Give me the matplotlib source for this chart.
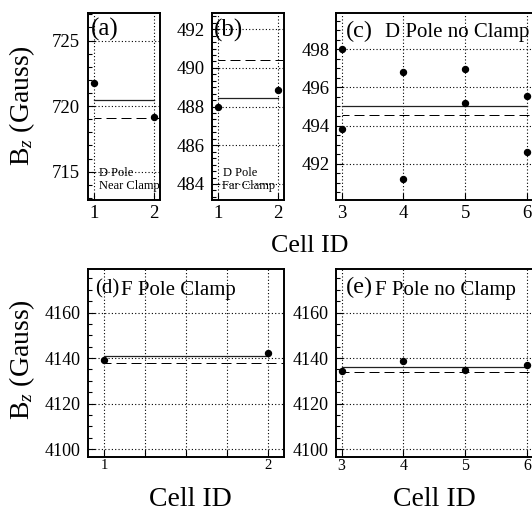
import numpy as np
import matplotlib
matplotlib.use("Agg")
import matplotlib.pyplot as plt
from matplotlib.ticker import AutoMinorLocator, FixedLocator, MultipleLocator

plt.rcParams['font.family'] = ['Liberation Serif', 'DejaVu Serif']
plt.rcParams['mathtext.fontset'] = 'custom'
plt.rcParams['mathtext.rm'] = 'Liberation Serif'
plt.rcParams['mathtext.it'] = 'Liberation Serif:italic'

# ---------------- data ----------------
a_cells = [1, 2]
a_bz = [721.8, 719.15]
a_ref = 719.13

b_cells = [1, 2]
b_bz = [488.0, 488.88]
b_ref = 490.41

c_cells = [3, 3, 4, 4, 5, 5, 6, 6]
c_bz = [498.0, 493.82, 496.8, 491.22, 496.98, 495.2, 495.53, 492.63]
c_ref = 494.56

d_cells = [1, 2]
d_bz = [4139.3, 4142.2]
d_ref = 4137.7

e_cells = [3, 4, 5, 6]
e_bz = [4134.2, 4138.8, 4134.8, 4137.1]
e_ref = 4133.7

a_ticks = [1, 2]
c_ticks = [3, 4, 5, 6]
d_ticks = [1, 1.25, 1.5, 1.75, 2]
d_ticklabels = ['1', '', '', '', '2']

# ---------------- figure ----------------
W, H = 532, 511
fig = plt.figure(figsize=(W / 100, H / 100), dpi=100)


def rect(l, r, t, b):
    return [l / W, 1 - b / H, (r - l) / W, (b - t) / H]


def style(ax, xlim, ylim, xticks, ymajor, nminor, xlab_size, ylab_size, ypad, xpad, xticklabels=None):
    ax.set_xlim(*xlim)
    ax.set_ylim(*ylim)
    ax.xaxis.set_major_locator(FixedLocator(xticks))
    if xticklabels is not None:
        ax.set_xticklabels(xticklabels)
    else:
        ax.set_xticklabels([str(t) for t in xticks])
    ax.yaxis.set_major_locator(MultipleLocator(ymajor))
    ax.yaxis.set_minor_locator(AutoMinorLocator(nminor))
    for s in ax.spines.values():
        s.set_linewidth(1.4)
    ax.tick_params(axis='both', which='both', direction='in', top=False, right=False, width=0.8)
    ax.tick_params(axis='both', which='major', length=5)
    ax.tick_params(axis='y', which='minor', length=2.8)
    ax.tick_params(axis='x', which='major', labelsize=xlab_size, pad=xpad)
    ax.tick_params(axis='y', which='major', labelsize=ylab_size, pad=ypad)
    ax.grid(True, which='major', axis='both', color='black', linestyle=(0, (1, 2)), linewidth=0.8)
    ax.set_axisbelow(True)


def draw(ax, cells, bz, ref):
    mean = np.mean(bz)
    ax.plot([min(cells), max(cells)], [mean, mean], color='#222222', lw=0.9, zorder=3)
    ax.hlines(ref, min(cells), ax.get_xlim()[1], colors='black', lw=0.72,
              linestyles=[(3, (10, 5))], zorder=3)
    ax.plot(cells, bz, 'o', color='black', ms=4.3, zorder=4, clip_on=False)


# (a)
axa = fig.add_axes(rect(88, 160, 13, 200))
style(axa, (0.9, 2.1), (712.84, 727.1), a_ticks, 5, 5, 13.5, 13.5, 5.5, 3.5)
draw(axa, a_cells, a_bz, a_ref)
axa.text(0.04, 0.877, '(a)', transform=axa.transAxes, fontsize=18, va='baseline', ha='left')
axa.text(0.153, (200 - 176.5) / 187, 'D Pole', transform=axa.transAxes, fontsize=9, va='baseline', ha='left')
axa.text(0.153, (200 - 189) / 187, 'Near Clamp', transform=axa.transAxes, fontsize=9, va='baseline', ha='left')

# (b)
axb = fig.add_axes(rect(212, 283.5, 13, 200))
style(axb, (0.9, 2.1), (483.17, 492.84), a_ticks, 2, 6, 13.5, 13.5, 5.0, 3.5)
draw(axb, b_cells, b_bz, b_ref)
axb.text(0.03, 0.872, '(b)', transform=axb.transAxes, fontsize=18, va='baseline', ha='left')
axb.text(0.15, (200 - 176.5) / 187, 'D Pole', transform=axb.transAxes, fontsize=9, va='baseline', ha='left')
axb.text(0.136, (200 - 189) / 187, 'Far Clamp', transform=axb.transAxes, fontsize=9, va='baseline', ha='left')

# (c)
axc = fig.add_axes(rect(336, 533, 13, 200))
style(axc, (2.908, 6.10), (490.1, 499.9), c_ticks, 2, 4, 13.5, 13.5, 4.3, 3.5)
draw(axc, c_cells, c_bz, c_ref)
axc.text(0.05, 0.872, '(c)', transform=axc.transAxes, fontsize=17.5, va='baseline', ha='left')
axc.text(0.249, 0.872, 'D Pole no Clamp', transform=axc.transAxes, fontsize=15, va='baseline', ha='left')

# (d)
axd = fig.add_axes(rect(88, 284, 269.3, 456.7))
style(axd, (0.9, 2.1), (4096.7, 4179.0), d_ticks, 20, 4, 10.5, 13, 5.5, 1.5, d_ticklabels)
draw(axd, d_cells, d_bz, d_ref)
axd.text(0.036, (456.7 - 293) / 187.4, '(d)', transform=axd.transAxes, fontsize=15, va='baseline', ha='left')
axd.text(0.167, (456.7 - 295) / 187.4, 'F Pole Clamp', transform=axd.transAxes, fontsize=15, va='baseline', ha='left')

# (e)
axe = fig.add_axes(rect(336, 533, 269.3, 456.7))
style(axe, (2.908, 6.10), (4096.7, 4179.0), c_ticks, 20, 4, 11.5, 13, 5.5, 1.0)
draw(axe, e_cells, e_bz, e_ref)
axe.text(0.05, (456.7 - 293) / 187.4, '(e)', transform=axe.transAxes, fontsize=17.5, va='baseline', ha='left')
axe.text(0.198, (456.7 - 295) / 187.4, 'F Pole no Clamp', transform=axe.transAxes, fontsize=15, va='baseline', ha='left')

# axis titles
fig.text(22 / W, 1 - 106 / H, r'B$_{z}$ (Gauss)', rotation=90, fontsize=20, ha='center', va='center')
fig.text(22 / W, 1 - 360 / H, r'B$_{z}$ (Gauss)', rotation=90, fontsize=20, ha='center', va='center')
fig.text(310 / W, 1 - 252.5 / H, 'Cell ID', fontsize=18.7, ha='center', va='baseline')
fig.text(190 / W, 1 - 505.5 / H, 'Cell ID', fontsize=20, ha='center', va='baseline')
fig.text(434.5 / W, 1 - 505.5 / H, 'Cell ID', fontsize=20, ha='center', va='baseline')

fig.savefig('out.png', dpi=100)
